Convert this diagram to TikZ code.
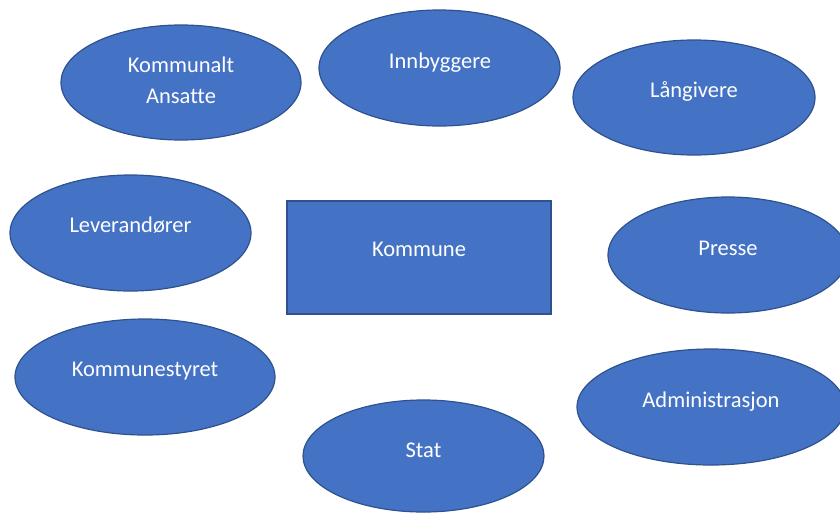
\documentclass[tikz,border=0pt]{standalone}
\usepackage{fontspec}
\setmainfont[Ligatures=NoCommon]{Carlito}
\usetikzlibrary{shapes.geometric}
\definecolor{fillblue}{HTML}{4472C4}
\definecolor{edgeblue}{HTML}{2F528F}
\tikzset{
  oval/.style={ellipse, draw=edgeblue, fill=fillblue, line width=1.2pt, inner sep=0pt},
  box/.style={rectangle, draw=edgeblue, fill=fillblue, line width=1.2pt, inner sep=0pt},
  txt/.style={text=white, font=\fontsize{22.5}{31}\selectfont, inner sep=0pt, anchor=base, align=center}
}
\begin{document}
\begin{tikzpicture}[x=1pt,y=-1pt]
\useasboundingbox (0,0) rectangle (840,512);
\begin{scope}
\clip (0,0) rectangle (840,512);
\node[oval, minimum width=240pt, minimum height=115pt] (ka) at (181,82.5) {};
\node[oval, minimum width=241pt, minimum height=116pt] (inn) at (439.5,68) {};
\node[oval, minimum width=242pt, minimum height=115pt] (lan) at (694,97.5) {};
\node[oval, minimum width=241pt, minimum height=116pt] (lev) at (130.5,233) {};
\node[box, minimum width=264pt, minimum height=113pt] (kom) at (419,257.5) {};
\node[oval, minimum width=240pt, minimum height=116pt] (pre) at (728,255) {};
\node[oval, minimum width=260pt, minimum height=116pt] (ks) at (145,377) {};
\node[oval, minimum width=268pt, minimum height=116pt] (adm) at (711,407) {};
\node[oval, minimum width=241pt, minimum height=112pt] (stat) at (423.5,456) {};
\end{scope}
\node[txt] (tka1) at (181,72) {Kommunalt};
\node[txt] (tka2) at (181,103) {Ansatte};
\node[txt] (tinn) at (440,68) {Innbyggere};
\node[txt] (tlan) at (694,97) {Långivere};
\node[txt] (tlev) at (130.5,232) {Leverandører};
\node[txt] (tkom) at (419,256) {Kommune};
\node[txt] (tpre) at (728,255) {Presse};
\node[txt] (tks) at (145,376) {Kommunestyret};
\node[txt] (tadm) at (711,407) {Administrasjon};
\node[txt] (tstat) at (423.5,457) {Stat};
\end{tikzpicture}
\end{document}
